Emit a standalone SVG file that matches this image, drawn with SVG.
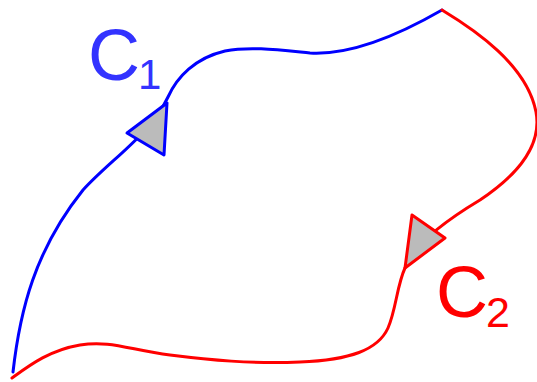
<svg xmlns="http://www.w3.org/2000/svg" width="537" height="382" viewBox="0 0 537 382">
<style>
.curve{fill:none;stroke-width:3;stroke-linejoin:round;stroke-linecap:round}
.c1{stroke:#0000ff}
.c2{stroke:#ff0000}
.arrow{fill:#bbbbbb;stroke-width:3;stroke-linejoin:round}
.lbl{font-family:"Liberation Sans",Arial,sans-serif}
</style>
<rect width="537" height="382" fill="#ffffff"/>
<g id="connectors">
<path id="C1-curve" class="curve c1" d="M13,372 C20,310 35,250 83,190 C110,160 150,135 168,97 C177,77 195,58 225,51 C250,46 280,50 310,53 C345,55 390,40 442,10"/>
<path id="C2-curve" class="curve c2" d="M442,10 C475,30 527,65 536,112 C543,150 510,180 480,200 C460,212 415,240 405,268 C397,285 396,310 388,328 C378,350 350,360 300,362 C250,364 210,360 170,355 C130,350 110,340 80,345 C50,350 30,365 12,378"/>
<polygon id="C1-arrow" class="arrow" stroke="#0000ff" points="127,133 167,103 164,155"/>
<polygon id="C2-arrow" class="arrow" stroke="#ff0000" points="412,215 445,238 405,268"/>
</g>
<g id="label-C1" class="lbl" fill="#3333ff">
<text x="88" y="80" font-size="72">C</text>
<text x="138" y="89" font-size="42">1</text>
</g>
<g id="label-C2" class="lbl" fill="#ff0000">
<text x="436" y="317" font-size="72">C</text>
<text x="486" y="327" font-size="43">2</text>
</g>
</svg>
